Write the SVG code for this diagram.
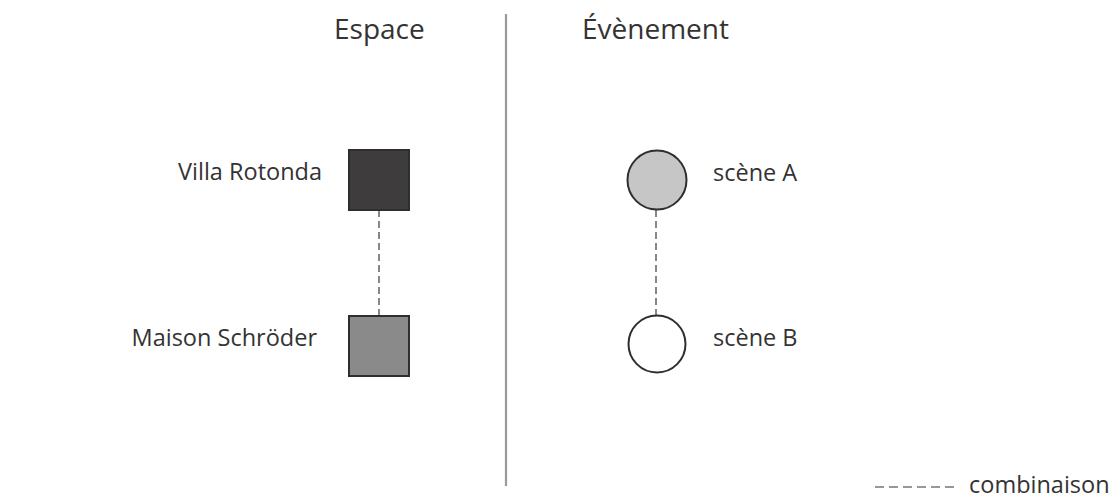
<svg xmlns="http://www.w3.org/2000/svg" width="1119" height="498" viewBox="0 0 1119 498">
<style>
text{font-family:"Open Sans","Noto Sans",sans-serif;fill:#333}
.h{font-size:28px}
.l{font-size:23.5px}
.n{stroke:#2e2e2e;stroke-width:2}
.d{stroke:#555;stroke-width:1.4;stroke-dasharray:7 4;fill:none}
</style>
<rect width="1119" height="498" fill="#fff"/>
<line x1="506" y1="14" x2="506" y2="486" stroke="#9a9a9a" stroke-width="2.2"/>
<text class="h" x="334" y="39">Espace</text>
<text class="h" x="582" y="39">Évènement</text>
<g id="connectors">
<line class="d" x1="379" y1="210" x2="379" y2="316"/>
<line class="d" x1="656" y1="210" x2="656" y2="316"/>
</g>
<g id="villa-rotonda">
<rect class="n" x="349" y="150" width="60" height="60" fill="#3e3c3c"/>
<text class="l" x="322" y="180" text-anchor="end">Villa Rotonda</text>
</g>
<g id="maison-schroder">
<rect class="n" x="349" y="316" width="60" height="60" fill="#8a8a8a"/>
<text class="l" x="317" y="346" text-anchor="end">Maison Schröder</text>
</g>
<g id="scene-a">
<circle class="n" cx="657" cy="180" r="29.5" fill="#c6c6c6"/>
<text class="l" x="713" y="181">scène A</text>
</g>
<g id="scene-b">
<circle class="n" cx="657" cy="344" r="28.5" fill="#fff"/>
<text class="l" x="713" y="346">scène B</text>
</g>
<g id="legend">
<line x1="875" y1="487" x2="959" y2="487" stroke="#777" stroke-width="1.6" stroke-dasharray="9 5"/>
<text class="l" x="969" y="493">combinaison</text>
</g>
</svg>
